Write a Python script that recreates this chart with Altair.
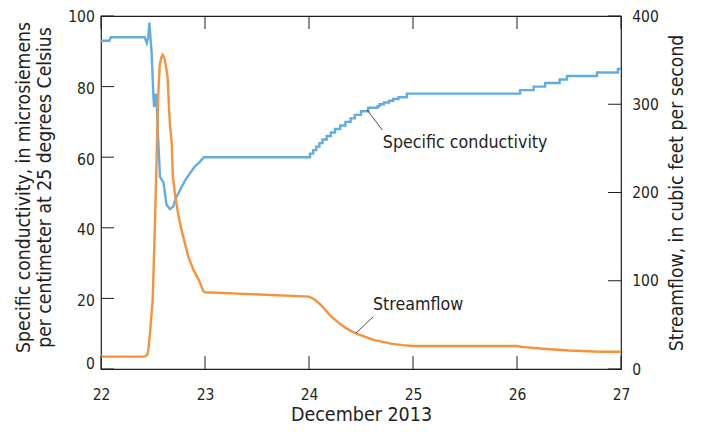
import altair as alt
import pandas as pd

# Specific conductivity (day of December 2013, microsiemens/cm) — storm period (smooth)
cond_day = [22.00, 22.08, 22.095, 22.42, 22.44, 22.455, 22.465, 22.487, 22.503, 22.51, 22.52, 22.527,
            22.535, 22.55, 22.567, 22.585, 22.60, 22.63, 22.663, 22.695, 22.72, 22.76, 22.81, 22.855,
            22.90, 22.95, 22.99, 24.00]
cond_val = [93, 93, 94, 94, 92.3, 94, 98.1, 89.5, 78, 74.3, 75, 78,
            76, 65, 54.5, 53.5, 53, 46.5, 45.3, 46, 48.4, 50.7, 53.5, 55.4,
            57.3, 58.7, 60, 60]
# Specific conductivity — recorded steps after 24 December
step_day = [24.00, 24.01, 24.04, 24.07, 24.10, 24.13, 24.17, 24.21, 24.25, 24.30, 24.35, 24.40,
            24.44, 24.50, 24.57, 24.66, 24.68, 24.72, 24.77, 24.81, 24.86, 24.94,
            26.03, 26.16, 26.27, 26.41, 26.48, 26.77, 26.97, 27.00]
step_val = [60, 61, 62, 63, 64, 65, 66, 67, 68, 69, 70, 71,
            72, 73, 74, 74.5, 75, 75.5, 76, 76.5, 77, 78,
            79, 80, 81, 82, 83, 84, 85, 85]

# Streamflow (cubic feet per second)
flow_day = [22.00, 22.42, 22.445, 22.455, 22.471, 22.497, 22.51, 22.52, 22.535, 22.55, 22.565, 22.58,
            22.593, 22.615, 22.64, 22.66, 22.68, 22.69, 22.71, 22.74, 22.76, 22.79, 22.84, 22.89,
            22.94, 22.985, 23.00,
            24.00, 24.05, 24.10, 24.15, 24.20, 24.25, 24.30, 24.36, 24.42, 24.48, 24.55, 24.62,
            24.70, 24.80, 24.90, 25.00, 26.00, 26.05, 26.10, 26.25, 26.50, 26.80, 27.00]
flow_val = [14, 14, 16, 21.5, 41, 78, 130, 170, 240, 310, 345, 353,
            356, 350, 331, 282, 256, 220, 199, 177, 165, 150, 127, 112,
            101, 88, 87,
            82, 79, 74, 68, 61, 56, 51, 46, 42, 39, 36, 33,
            31, 28.5, 27, 26, 26, 25, 24.5, 23, 21, 19.5, 19.5]

x_ticks = [22, 23, 24, 25, 26, 27]
cond_ticks = [0, 20, 40, 60, 80, 100]
flow_ticks = [0, 100, 200, 300, 400]

# Annotations: label text, anchor, leader line start/end
cond_label = {"text": "Specific conductivity", "day": 24.71, "val": 64.0,
              "d1": 24.558, "v1": 73.4, "d2": 24.705, "v2": 67.7}
flow_label = {"text": "Streamflow", "day": 24.615, "val": 72.5,
              "d1": 24.618, "v1": 59.3, "d2": 24.45, "v2": 40.5}

FONT = "DejaVu Sans Condensed, Liberation Sans Narrow, sans-serif"
INK = "#231f20"
BLUE = "#62ace2"
ORANGE = "#f7923a"
W, H = 520, 353
TL = 13

cond_df = pd.DataFrame({"day": cond_day, "val": cond_val})
step_df = pd.DataFrame({"day": step_day, "val": step_val})
flow_df = pd.DataFrame({"day": flow_day, "val": flow_val})
xt_df = pd.DataFrame({"day": x_ticks})
ct_df = pd.DataFrame({"val": cond_ticks})
ft_df = pd.DataFrame({"val": flow_ticks})

x_scale = alt.Scale(domain=[22, 27], nice=False, zero=False)
x_axis = alt.Axis(values=x_ticks, format="d", title="December 2013", domain=False, ticks=False,
                  grid=False, labelFlush=False, labelBaseline="alphabetic", labelPadding=30,
                  titleBaseline="alphabetic", titleY=51, titleFontSize=19.5)
x_enc = alt.X("day:Q", scale=x_scale, axis=x_axis)
cond_scale = alt.Scale(domain=[0, 100], nice=False)
flow_scale = alt.Scale(domain=[0, 400], nice=False)

cond_axis = alt.Axis(orient="left", values=cond_ticks, domain=False, ticks=False, grid=False,
                     labelPadding=6.7, labelBaseline="middle",
                     labelOffset={"condition": [{"test": "datum.value == 0", "value": -6},
                                                {"test": "datum.value == 100", "value": 0}],
                                  "value": 2},
                     title=["Specific conductivity, in microsiemens",
                            "per centimeter at 25 degrees Celsius"],
                     titleBaseline="middle", titleLineHeight=21, titleX=-77.5, titleY=171,
                     titleAngle=270)

cond_line = alt.Chart(cond_df).mark_line(color=BLUE, strokeWidth=2.4).encode(
    x=x_enc, y=alt.Y("val:Q", scale=cond_scale, axis=cond_axis))
step_line = alt.Chart(step_df).mark_line(color=BLUE, strokeWidth=2.4, interpolate="step-after").encode(
    x=x_enc, y=alt.Y("val:Q", scale=cond_scale, axis=None))

flow_line = alt.Chart(flow_df).mark_line(color=ORANGE, strokeWidth=2.4).encode(
    x=x_enc,
    y=alt.Y("val:Q", scale=flow_scale,
            axis=alt.Axis(orient="right", values=flow_ticks, domain=False, ticks=False, grid=False,
                          labelPadding=10.7, labelBaseline="middle",
                          title="Streamflow, in cubic feet per second",
                          titleAngle=270, titleBaseline="middle", titleX=55, titleY=176.5)),
)

left_ticks = alt.Chart(ct_df).mark_rule(color=INK, strokeWidth=1).encode(
    x=alt.value(0), x2=alt.value(TL), y=alt.Y("val:Q", scale=cond_scale, axis=None))
right_ticks = alt.Chart(ft_df).mark_rule(color=INK, strokeWidth=1).encode(
    x=alt.value(W - TL), x2=alt.value(W), y=alt.Y("val:Q", scale=flow_scale, axis=None))
bottom_ticks = alt.Chart(xt_df).mark_rule(color=INK, strokeWidth=1).encode(
    x=x_enc, y=alt.value(H - TL), y2=alt.value(H))
top_ticks = alt.Chart(xt_df).mark_rule(color=INK, strokeWidth=1).encode(
    x=x_enc, y=alt.value(0), y2=alt.value(TL))

cl_df = pd.DataFrame([cond_label])
fl_df = pd.DataFrame([flow_label])

cond_text = alt.Chart(cl_df).mark_text(align="left", baseline="middle", font=FONT, fontSize=17.7,
                                        color=INK).encode(
    x=x_enc, y=alt.Y("val:Q", scale=cond_scale, axis=None), text="text:N")
cond_lead = alt.Chart(cl_df).mark_rule(color=INK, strokeWidth=0.8).encode(
    x=alt.X("d1:Q", scale=x_scale, axis=x_axis), x2="d2:Q",
    y=alt.Y("v1:Q", scale=cond_scale, axis=None), y2="v2:Q")
flow_text = alt.Chart(fl_df).mark_text(align="left", baseline="middle", font=FONT, fontSize=17.7,
                                        color=INK).encode(
    x=x_enc, y=alt.Y("val:Q", scale=flow_scale, axis=None), text="text:N")
flow_lead = alt.Chart(fl_df).mark_rule(color=INK, strokeWidth=0.8).encode(
    x=alt.X("d1:Q", scale=x_scale, axis=x_axis), x2="d2:Q",
    y=alt.Y("v1:Q", scale=flow_scale, axis=None), y2="v2:Q")

chart = alt.layer(
    cond_line, step_line, flow_line, left_ticks, right_ticks, bottom_ticks, top_ticks,
    cond_text, cond_lead, flow_text, flow_lead,
).resolve_scale(y="independent").properties(
    width=W, height=H,
    autosize=alt.AutoSizeParams(type="none"),
    padding={"left": 93, "top": 8, "right": 72, "bottom": 55},
).configure_view(stroke=INK, strokeWidth=1.2).configure_axis(
    labelFont=FONT, titleFont=FONT, labelFontSize=15.5, titleFontSize=19.2,
    labelColor=INK, titleColor=INK, titleFontWeight="normal",
)

chart.save("out.html", embed_options={"renderer": "svg", "actions": False})
